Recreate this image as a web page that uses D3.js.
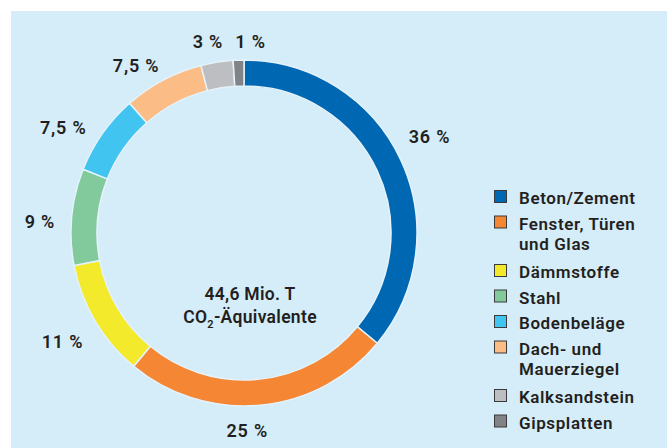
<!DOCTYPE html>
<html>
<head>
<meta charset="utf-8">
<script src="https://cdn.jsdelivr.net/npm/d3@7"></script>
<style>
  body { margin: 0; background: #fff; }
  text { font-family: Roboto, "Liberation Sans", sans-serif; fill: #231f20; }
</style>
</head>
<body>
<div id="chart"></div>
<script>
// data
var categories = ["Beton/Zement", "Fenster, Türen und Glas", "Dämmstoffe", "Stahl",
                  "Bodenbeläge", "Dach- und Mauerziegel", "Kalksandstein", "Gipsplatten"];
var shares = [36, 25, 11, 9, 7.5, 7.5, 3, 1];
var shareLabels = ["36 %", "25 %", "11 %", "9 %", "7,5 %", "7,5 %", "3 %", "1 %"];
var legendLines = [["Beton/Zement"], ["Fenster, Türen", "und Glas"], ["Dämmstoffe"], ["Stahl"],
                   ["Bodenbeläge"], ["Dach- und", "Mauerziegel"], ["Kalksandstein"], ["Gipsplatten"]];
var totalLabel = "44,6 Mio. T";

var colors = ["#0068b3", "#f58634", "#f4ea2c", "#82c99c", "#41c5f0", "#fcbc85", "#bdbec1", "#828386"];

var width = 667, height = 448;
var cx = 244, cy = 233, outerR = 173, innerR = 147, labelR = 205;

// small manual shifts so the labels sit where the original puts them
var labelNudge = [[0, -9], [-16, -7], [-5, 4], [0, 8], [-13, 12], [-12, 14], [-4, 11], [13, 13]];

var svg = d3.select("#chart")
  .append("svg")
    .attr("width", width)
    .attr("height", height);

// background panel
svg.append("rect")
  .attr("x", 11).attr("y", 11)
  .attr("width", width - 11).attr("height", height - 11)
  .attr("fill", "#d5ecf9");

var pie = d3.pie().sort(null).value(function(d) { return d; });
var arcs = pie(shares);

var arc = d3.arc().innerRadius(innerR).outerRadius(outerR);
var labelArc = d3.arc().innerRadius(labelR).outerRadius(labelR);

var g = svg.append("g").attr("transform", "translate(" + cx + "," + cy + ")");

g.selectAll("path")
  .data(arcs)
  .enter().append("path")
    .attr("d", arc)
    .attr("fill", function(d, i) { return colors[i]; })
    .attr("stroke", "#e4f3fb")
    .attr("stroke-width", 1.5);

g.selectAll(".pct")
  .data(arcs)
  .enter().append("text")
    .attr("class", "pct")
    .attr("transform", function(d, i) {
      var c = labelArc.centroid(d);
      return "translate(" + (c[0] + labelNudge[i][0]) + "," + (c[1] + labelNudge[i][1]) + ")";
    })
    .attr("text-anchor", "middle")
    .attr("dy", "0.36em")
    .style("font-size", "18px")
    .style("font-weight", 600)
    .style("letter-spacing", "0.8px")
    .text(function(d, i) { return shareLabels[i]; });

// centre text
g.append("text")
  .attr("x", 6).attr("y", 67)
  .attr("text-anchor", "middle")
  .style("font-size", "17.5px")
  .style("font-weight", 600)
  .style("letter-spacing", "0.3px")
  .text(totalLabel);

var co2 = g.append("text")
  .attr("x", 6).attr("y", 90)
  .attr("text-anchor", "middle")
  .style("font-size", "17.5px")
  .style("font-weight", 600)
  .style("letter-spacing", "0.3px");
co2.append("tspan").text("CO");
co2.append("tspan").attr("dy", 5).style("font-size", "11px").text("2");
co2.append("tspan").attr("dy", -5).text("-Äquivalente");

// legend
var legend = svg.append("g").attr("transform", "translate(494,0)");
var y = 204;
legendLines.forEach(function(lines, i) {
  var item = legend.append("g");
  item.append("rect")
    .attr("x", 0.5).attr("y", y - 13.5)
    .attr("width", 12).attr("height", 12)
    .attr("fill", colors[i])
    .attr("stroke", "#3a3a3a")
    .attr("stroke-width", 1);
  lines.forEach(function(line, j) {
    item.append("text")
      .attr("x", 25).attr("y", y + j * 20)
      .style("font-size", "17px")
      .style("font-weight", 600)
      .style("letter-spacing", "0.6px")
      .text(line);
  });
  y += 25.5 + (lines.length - 1) * 23;
});
</script>
</body>
</html>
